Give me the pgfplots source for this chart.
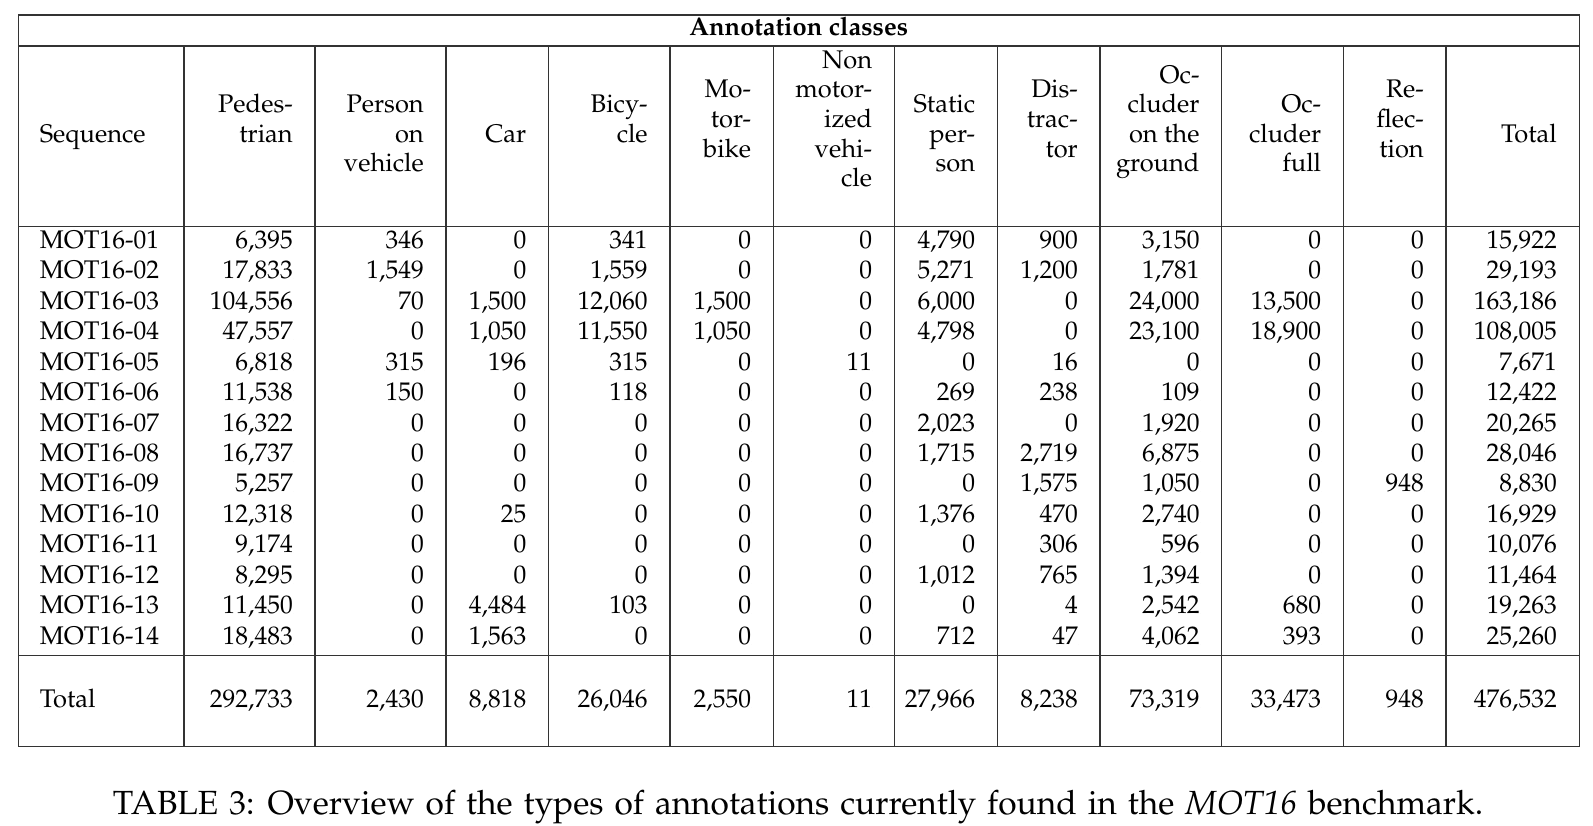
\documentclass[border=0pt]{standalone}
\usepackage[T1]{fontenc}
\usepackage{mathpazo}
\usepackage{pgfplots}
\usepackage{pgfplotstable}
\pgfplotsset{compat=1.18}
\definecolor{rulec}{gray}{0.2}

\pgfplotstableread{
seq ped pov car bic mot nmv sta dis ocg ocf ref tot
MOT16-01 6395 346 0 341 0 0 4790 900 3150 0 0 15922
MOT16-02 17833 1549 0 1559 0 0 5271 1200 1781 0 0 29193
MOT16-03 104556 70 1500 12060 1500 0 6000 0 24000 13500 0 163186
MOT16-04 47557 0 1050 11550 1050 0 4798 0 23100 18900 0 108005
MOT16-05 6818 315 196 315 0 11 0 16 0 0 0 7671
MOT16-06 11538 150 0 118 0 0 269 238 109 0 0 12422
MOT16-07 16322 0 0 0 0 0 2023 0 1920 0 0 20265
MOT16-08 16737 0 0 0 0 0 1715 2719 6875 0 0 28046
MOT16-09 5257 0 0 0 0 0 0 1575 1050 0 948 8830
MOT16-10 12318 0 25 0 0 0 1376 470 2740 0 0 16929
MOT16-11 9174 0 0 0 0 0 0 306 596 0 0 10076
MOT16-12 8295 0 0 0 0 0 1012 765 1394 0 0 11464
MOT16-13 11450 0 4484 103 0 0 0 4 2542 680 0 19263
MOT16-14 18483 0 1563 0 0 0 712 47 4062 393 0 25260
Total 292733 2430 8818 26046 2550 11 27966 8238 73319 33473 948 476532
}\datatable

\newcommand{\ry}{\coordindex<14 ? 248.3+30.45*\coordindex : 707.3}
\newcommand{\numcol}[2]{%
  \addplot[cell, point meta=explicit,
    nodes near coords={\pgfmathprintnumber[fixed,precision=0,1000 sep={,},assume math mode=true]{\pgfplotspointmeta}},
    nodes near coords align={anchor=base east}]
    table[x expr=#2, y expr={\ry}, meta=#1] {\datatable};}
\newcommand{\hd}[3]{\node[anchor=base east, inner sep=0pt] at (axis cs:#1,{68.3+14.8*#2}) {#3};}
\newcommand{\vl}[1]{\draw[rulec, line width=0.5pt] (axis cs:#1,46) -- (axis cs:#1,746.7);}

\begin{document}
\begin{tikzpicture}[font=\fontsize{10.2}{12.2}\selectfont]
\path[use as bounding box] (0,0) rectangle (637.2pt,330pt);
\begin{axis}[
  at={(0,0)}, anchor=south west,
  width=637.2pt, height=330pt, scale only axis,
  xmin=0, xmax=1593, ymin=0, ymax=825, y dir=reverse,
  hide axis, clip=false,
  cell/.style={only marks, mark=*, mark size=0pt, mark options={draw=none, fill=none},
    nodes near coords,
    every node near coord/.append style={inner sep=0pt, text=black, font=\fontsize{10.2}{12.2}\selectfont}},
]
% rules
\draw[rulec, line width=0.5pt] (axis cs:18.3,15) rectangle (axis cs:1579.5,746.7);
\draw[rulec, line width=0.5pt] (axis cs:18.3,46) -- (axis cs:1579.5,46);
\draw[rulec, line width=0.5pt] (axis cs:18.3,226.5) -- (axis cs:1579.5,226.5);
\draw[rulec, line width=0.5pt] (axis cs:18.3,655.7) -- (axis cs:1579.5,655.7);
\vl{184}\vl{315}\vl{446}\vl{548.5}\vl{669.9}\vl{773.3}\vl{894.3}\vl{997.3}\vl{1100}\vl{1221.7}\vl{1343.3}\vl{1446}

% title row
\node[anchor=base, inner sep=0pt, font=\fontsize{10.2}{12.2}\selectfont\bfseries] at (axis cs:798.7,35.5) {Annotation classes};

% header
\node[anchor=base west, inner sep=0pt] at (axis cs:39.3,142.3) {Sequence};
\hd{293.3}{3}{Pedes-}\hd{293.3}{5}{trian}
\hd{424.3}{3}{Person}\hd{424.3}{5}{on}\hd{424.3}{7}{vehicle}
\hd{526.8}{5}{Car}
\hd{648.2}{3}{Bicy-}\hd{648.2}{5}{cle}
\hd{751.6}{2}{Mo-}\hd{751.6}{4}{tor-}\hd{751.6}{6}{bike}
\hd{872.6}{0}{Non}\hd{872.6}{2}{motor-}\hd{872.6}{4}{ized}\hd{872.6}{6}{vehi-}\hd{872.6}{8}{cle}
\hd{975.6}{3}{Static}\hd{975.6}{5}{per-}\hd{975.6}{7}{son}
\hd{1078.3}{2}{Dis-}\hd{1078.3}{4}{trac-}\hd{1078.3}{6}{tor}
\hd{1200}{1}{Oc-}\hd{1200}{3}{cluder}\hd{1200}{5}{on the}\hd{1200}{7}{ground}
\hd{1321.6}{3}{Oc-}\hd{1321.6}{5}{cluder}\hd{1321.6}{7}{full}
\hd{1424.3}{2}{Re-}\hd{1424.3}{4}{flec-}\hd{1424.3}{6}{tion}
\hd{1557.3}{5}{Total}

% sequence names
\addplot[cell, point meta=explicit symbolic,
  nodes near coords={\pgfplotspointmeta},
  nodes near coords align={anchor=base west}]
  table[x expr=39.3, y expr={\ry}, meta=seq] {\datatable};

% numbers
\numcol{ped}{293.3}
\numcol{pov}{424.3}
\numcol{car}{526.8}
\numcol{bic}{648.2}
\numcol{mot}{751.6}
\numcol{nmv}{872.6}
\numcol{sta}{975.6}
\numcol{dis}{1078.3}
\numcol{ocg}{1200}
\numcol{ocf}{1321.6}
\numcol{ref}{1424.3}
\numcol{tot}{1557.3}

% caption
\node[anchor=base, inner sep=0pt, font=\fontsize{13.4}{16}\selectfont] at (axis cs:798,814.3)
  {\spaceskip=4.4pt TABLE 3: Overview of the types of annotations currently found in the \textit{MOT16} benchmark.};
\end{axis}
\end{tikzpicture}
\end{document}
